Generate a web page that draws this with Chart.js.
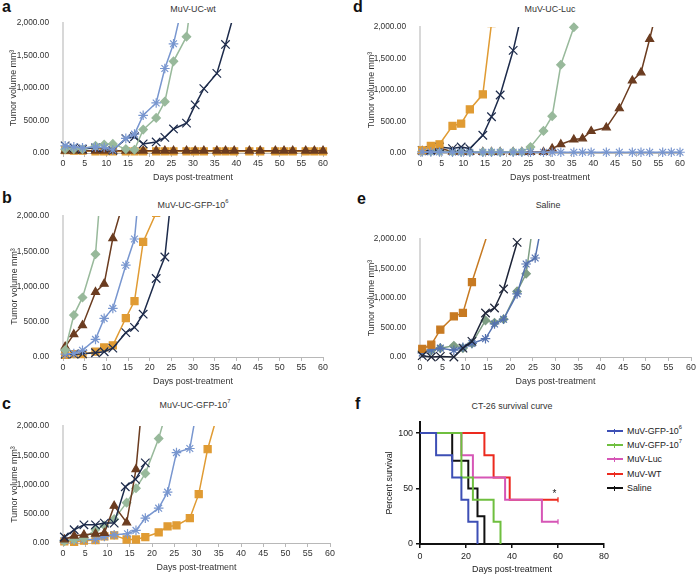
<!DOCTYPE html>
<html>
<head>
<meta charset="utf-8">
<script src="https://cdn.jsdelivr.net/npm/chart.js@4.4.1/dist/chart.umd.min.js"></script>
<style>
  body { margin: 0; width: 700px; height: 577px; position: relative; overflow: hidden; background: #fff;
         font-family: "Liberation Sans", Arial, sans-serif; }
  canvas { position: absolute; }
  .lbl { position: absolute; font-weight: bold; font-size: 16px; line-height: 16px; color: #111; }
  .ttl { position: absolute; font-size: 8.9px; color: #333; white-space: nowrap; transform: translate(-50%, -50%); }
  .ttl sup, .leg sup { font-size: 5.8px; vertical-align: top; position: relative; top: -2px; }
  .leg { position: absolute; font-size: 8.9px; color: #222; white-space: nowrap; transform: translateY(-50%); }
  .leg i { position: absolute; left: -20px; top: 50%; width: 16px; height: 2px; margin-top: -1px; }
  .leg i b { position: absolute; left: 7px; top: -1.5px; width: 1.2px; height: 5px; background: inherit; }
</style>
</head>
<body>
<div class="lbl" style="left:2px;top:-1px">a</div>
<div class="lbl" style="left:353px;top:-1px">d</div>
<div class="lbl" style="left:2px;top:190px">b</div>
<div class="lbl" style="left:357px;top:191px">e</div>
<div class="lbl" style="left:2px;top:396px">c</div>
<div class="lbl" style="left:355px;top:396px">f</div>

<div class="ttl" style="left:193px;top:9px">MuV-UC-wt</div>
<div class="ttl" style="left:550px;top:9px">MuV-UC-Luc</div>
<div class="ttl" style="left:193px;top:205px">MuV-UC-GFP-10<sup>6</sup></div>
<div class="ttl" style="left:548px;top:205px">Saline</div>
<div class="ttl" style="left:195px;top:405px">MuV-UC-GFP-10<sup>7</sup></div>
<div class="ttl" style="left:512px;top:406px">CT-26 survival curve</div>

<div class="leg" style="left:627px;top:431px"><i style="background:#3d4fb5"><b></b></i>MuV-GFP-10<sup>6</sup></div>
<div class="leg" style="left:627px;top:445px"><i style="background:#6fbf3f"><b></b></i>MuV-GFP-10<sup>7</sup></div>
<div class="leg" style="left:627px;top:459px"><i style="background:#d656b6"><b></b></i>MuV-Luc</div>
<div class="leg" style="left:627px;top:474px"><i style="background:#ec2a1e"><b></b></i>MuV-WT</div>
<div class="leg" style="left:627px;top:488px"><i style="background:#111"><b></b></i>Saline</div>

<script>
// axis ticks
const dayTicks = [0, 5, 10, 15, 20, 25, 30, 35, 40, 45, 50, 55, 60];
const volumeTicks = [0, 500, 1000, 1500, 2000];
const survDayTicks = [0, 20, 40, 60, 80];
const survTicks = [0, 50, 100];

// a: MuV-UC-wt  [day, mm3]
const wtBlue = [[0.5,110],[2.5,95],[4.5,80],[7.5,90],[9.5,85],[11.5,46],[14.5,225],[16.5,290],[18.5,580],[21.5,770],[23.5,1300],[25.5,1680],[28.5,2550]];
const wtGreen = [[0.5,60],[2.5,60],[4.5,60],[7.5,110],[9.5,130],[11.5,140],[14.5,60],[16.5,50],[18.5,360],[21.5,540],[23.5,790],[25.5,1410],[28.5,1790],[30.5,2840]];
const wtNavy = [[0.5,110],[2.5,80],[4.5,60],[7.5,80],[9.5,80],[11.5,40],[14.5,220],[16.5,250],[18.5,140],[21.5,170],[23.5,240],[25.5,370],[28.5,460],[30.5,740],[32.5,990],[35.5,1225],[37.5,1670],[39.5,2150]];
const wtOrange = [[0.5,45],[2.5,35],[4.5,35],[7.5,25],[9.5,25],[11.5,25],[14.5,25],[16.5,25],[18.5,25],[21.5,25],[23.5,25],[25.5,25],[28.5,25],[30.5,25],[32.5,25],[35.5,25],[37.5,25],[39.5,25],[43,25],[45.5,25],[49,25],[51,25],[53,25],[56,25],[58,25],[60,25]];
const wtBrown = [[0.5,35],[2.5,35],[4.5,35],[7.5,35],[9.5,35],[11.5,35],[14.5,35],[16.5,35],[18.5,35],[21.5,35],[23.5,35],[25.5,35],[28.5,35],[30.5,35],[32.5,35],[35.5,35],[37.5,35],[39.5,35],[43,35],[45.5,35],[49,35],[51,35],[53,35],[56,35],[58,35],[60,35]];

// d: MuV-UC-Luc
const lucOrange = [[0.5,43],[2.5,112],[4.5,138],[7.5,431],[9.5,468],[11.5,692],[14.5,931],[16.5,2060]];
const lucNavy = [[0.5,40],[2.5,40],[4.5,96],[7.5,70],[9.5,96],[11.5,70],[14.5,282],[16.5,575],[18.5,920],[21.5,1628],[23.5,2220]];
const lucGreen = [[0.5,25],[2.5,25],[4.5,25],[7.5,20],[9.5,20],[11.5,20],[14.5,15],[16.5,15],[18.5,15],[21.5,20],[23.5,20],[25.5,96],[28.5,351],[30.5,585],[32.5,1400],[35.5,1995]];
const lucBrown = [[0.5,30],[2.5,30],[4.5,80],[7.5,20],[9.5,20],[11.5,15],[14.5,15],[16.5,15],[18.5,15],[21.5,15],[23.5,15],[25.5,15],[28.5,15],[30.5,70],[32.5,138],[35.5,213],[37.5,229],[39.5,346],[43,404],[46,707],[49,1149],[51,1277],[53,1809],[56,2650]];
const lucBlue = [[0.5,15],[2.5,15],[4.5,15],[7.5,12],[9.5,12],[11.5,12],[14.5,12],[16.5,12],[18.5,12],[21.5,12],[23.5,12],[25.5,12],[28.5,12],[30.5,12],[32.5,12],[35.5,12],[37.5,12],[39.5,12],[43,12],[46,12],[49,12],[51,12],[53,12],[56,12],[58,12],[60,12]];

// b: MuV-UC-GFP-10^6
const g6Green = [[0.5,100],[2.5,594],[4.5,845],[7.5,1457],[9.5,3000]];
const g6Brown = [[0.5,146],[2.5,321],[4.5,448],[7.5,920],[9.5,1037],[11.5,1684],[14.5,2320]];
const g6Blue = [[0.5,42],[2.5,50],[4.5,95],[7.5,250],[9.5,548],[11.5,689],[14.5,1302],[16.5,1674],[18.5,2980]];
const g6Orange = [[0.5,30],[2.5,40],[4.5,40],[7.5,75],[9.5,135],[11.5,165],[14.5,553],[16.5,794],[18.5,1632],[21.5,2045]];
const g6Navy = [[0.5,40],[2.5,40],[4.5,45],[7.5,60],[9.5,75],[11.5,125],[14.5,345],[16.5,420],[18.5,607],[21.5,1113],[23.5,1419],[25.5,2580]];

// e: Saline
const salOrange = [[0.5,136],[2.5,208],[4.5,463],[7.5,688],[9.5,746],[11.5,1271],[16.5,2450]];
const salNavy = [[0.5,22],[2.5,0],[4.5,10],[7.5,0],[9.5,150],[11.5,264],[14.5,746],[16.5,830],[18.5,1152],[21.5,1942]];
const salGreen = [[0.5,100],[2.5,110],[4.5,150],[7.5,190],[9.5,150],[11.5,230],[14.5,620],[16.5,580],[18.5,640],[21.5,1112],[23.5,1410],[25.5,2530]];
const salBlue = [[0.5,68],[2.5,120],[4.5,150],[7.5,115],[9.5,165],[11.5,230],[14.5,310],[16.5,560],[18.5,640],[21.5,1070],[23.5,1576],[25.5,1678],[28.5,2880]];

// c: MuV-UC-GFP-10^7
const g7Navy = [[0.3,102],[2.5,226],[4.7,311],[7.3,311],[9.3,340],[11.5,340],[14,962],[16.3,1088],[18.5,1370]];
const g7Brown = [[0.3,60],[2.5,124],[4.7,141],[7.3,158],[9.3,170],[11.5,634],[14.3,350],[16.4,1258],[18.5,2990]];
const g7Green = [[0.3,30],[2.5,60],[4.7,80],[7.3,230],[9.3,300],[11.5,408],[14.3,690],[16.4,935],[18.5,1190],[21.5,1785],[23.5,2320]];
const g7Blue = [[0.3,45],[2.5,50],[4.7,60],[7.3,60],[9.3,110],[11.5,140],[14.5,158],[16.4,215],[18.5,425],[21.5,595],[23.5,870],[25.5,1545],[28.5,1615],[30.5,2470]];
const g7Orange = [[0.3,27],[2.5,20],[4.7,40],[7.3,50],[9.3,113],[11.5,130],[14.3,60],[16.4,60],[18.5,102],[21.5,180],[23.5,283],[25.5,300],[28.5,425],[30.5,835],[32.5,1603],[34.5,2140]];

// f: CT-26 survival  [day, percent]
const survGfp6 = [[0,100],[7,80],[14,60],[18,40],[21,20],[25,0]];
const survGfp7 = [[0,100],[18,60],[23,40],[32,20],[35,0]];
const survLuc = [[0,100],[18,80],[23,60],[37,40],[53,20],[60,20]];
const survWt = [[0,100],[28,80],[32,60],[39,40],[60,40]];
const survSaline = [[0,100],[14,75],[21,50],[25,25],[28,0]];
const sigMark = [58.5, 45];

Chart.defaults.font.family = '"Liberation Sans", Arial, sans-serif';
Chart.defaults.font.size = 8.9;
Chart.defaults.color = '#333';

const COL = { blue: '#7896cf', green: '#98b99b', navy: '#1d2b4b', orange: '#e09b33', brown: '#6b3c20' };
const MARK = {
    star:     { pointStyle: 'star',     pointRadius: 4.8 },
    cross:    { pointStyle: 'crossRot', pointRadius: 6 },
    diamond:  { pointStyle: 'rectRot',  pointRadius: 4.2 },
    square:   { pointStyle: 'rect',     pointRadius: 5 },
    triangle: { pointStyle: 'triangle', pointRadius: 4.6 }
};

function series(points, mark, color, extra) {
    return Object.assign({
        data: points.map(p => ({ x: p[0], y: p[1] })),
        showLine: true,
        borderColor: color,
        backgroundColor: color,
        pointBackgroundColor: color,
        pointBorderColor: color,
        borderWidth: 1.5,
        pointBorderWidth: 1.2,
        clip: { left: 8, right: 8, top: 0, bottom: 8 }
    }, MARK[mark], extra || {});
}

function makeCanvas(box) {
    const cv = document.createElement('canvas');
    cv.width = 350;
    cv.height = box.bottom - box.y + 34;
    cv.style.left = box.x + 'px';
    cv.style.top = box.y + 'px';
    document.body.appendChild(cv);
    return cv;
}

function tumorChart(box, datasets) {
    const cv = makeCanvas(box);
    const padL = box.titleX - box.x - 5;
    new Chart(cv, {
        type: 'scatter',
        data: { datasets },
        options: {
            responsive: false,
            animation: false,
            events: [],
            layout: { padding: { left: padL, right: 350 - (box.right - box.x), top: box.top - box.y, bottom: 0 } },
            plugins: { legend: { display: false }, tooltip: { enabled: false } },
            scales: {
                x: {
                    type: 'linear', min: 0, max: 60,
                    afterBuildTicks: s => { s.ticks = dayTicks.map(v => ({ value: v })); },
                    afterFit: s => { s.height = 34; },
                    grid: { display: true, drawOnChartArea: false, drawTicks: true, tickLength: 4, color: '#b8b8b8' },
                    border: { color: '#b8b8b8', width: 1 },
                    ticks: { padding: 1.5, maxRotation: 0, autoSkip: false },
                    title: { display: true, text: 'Days post-treatment', padding: { top: 0, bottom: 4 } }
                },
                y: {
                    min: 0, max: 2000,
                    afterBuildTicks: s => { s.ticks = volumeTicks.map(v => ({ value: v })); },
                    afterFit: s => { s.width = box.left - box.x - padL; },
                    grid: { display: false },
                    border: { color: '#d8d8d8', width: 2 },
                    ticks: {
                        padding: 6,
                        font: { size: 8.3 },
                        callback: v => v.toLocaleString('en-US', { minimumFractionDigits: 2, maximumFractionDigits: 2 })
                    },
                    title: { display: true, text: 'Tumor volume mm³', padding: { top: 0, bottom: 0 } }
                }
            }
        }
    });
}

// a
tumorChart({ x: 0, y: 0, left: 63, right: 323, top: 23, bottom: 153, titleX: 13 }, [
    series(wtBlue, 'star', COL.blue),
    series(wtGreen, 'diamond', COL.green),
    series(wtNavy, 'cross', COL.navy),
    series(wtBrown, 'triangle', COL.brown),
    series(wtOrange, 'square', COL.orange)
]);

// d
tumorChart({ x: 350, y: 0, left: 420, right: 680, top: 27, bottom: 153, titleX: 371 }, [
    series(lucBlue, 'star', COL.blue),
    series(lucOrange, 'square', COL.orange),
    series(lucNavy, 'cross', COL.navy),
    series(lucGreen, 'diamond', COL.green, { clip: { left: 8, right: 8, top: 6, bottom: 8 } }),
    series(lucBrown, 'triangle', COL.brown)
]);

// b
tumorChart({ x: 0, y: 190, left: 63, right: 323, top: 216, bottom: 357, titleX: 14 }, [
    series(g6Green, 'diamond', COL.green),
    series(g6Brown, 'triangle', COL.brown),
    series(g6Blue, 'star', COL.blue),
    series(g6Navy, 'cross', COL.navy),
    series(g6Orange, 'square', COL.orange)
]);

// e (slightly deeper tones in the original)
tumorChart({ x: 350, y: 190, left: 420, right: 691, top: 239, bottom: 357, titleX: 371 }, [
    series(salNavy, 'cross', '#1d2438', { clip: { left: 8, right: 8, top: 6, bottom: 8 } }),
    series(salOrange, 'square', '#c77a22'),
    series(salBlue, 'star', '#5472b0'),
    series(salGreen, 'diamond', '#7e9e84')
]);

// c
tumorChart({ x: 0, y: 380, left: 63, right: 330, top: 426, bottom: 543, titleX: 14 }, [
    series(g7Navy, 'cross', COL.navy),
    series(g7Brown, 'triangle', COL.brown),
    series(g7Green, 'diamond', COL.green),
    series(g7Blue, 'star', COL.blue),
    series(g7Orange, 'square', COL.orange)
]);

// f: survival
function survSeries(points, color, censored) {
    return {
        data: points.map(p => ({ x: p[0], y: p[1] })),
        showLine: true,
        stepped: 'before',
        borderColor: color,
        backgroundColor: color,
        borderWidth: 2,
        pointStyle: 'line',
        pointRotation: 90,
        pointRadius: c => (censored && c.dataIndex === points.length - 1) ? 2.5 : 0,
        pointBorderWidth: 1.3,
        pointBorderColor: color,
        clip: false
    };
}

(function () {
    const box = { x: 350, y: 380, left: 420, right: 604, top: 422, bottom: 544, titleX: 389 };
    const cv = makeCanvas(box);
    const padL = box.titleX - box.x - 5;
    new Chart(cv, {
        type: 'scatter',
        data: {
            datasets: [
                survSeries(survGfp6, '#3d4fb5', false),
                survSeries(survGfp7, '#6fbf3f', false),
                survSeries(survLuc, '#d656b6', true),
                survSeries(survWt, '#ec2a1e', true),
                survSeries(survSaline, '#111111', false)
            ]
        },
        options: {
            responsive: false,
            animation: false,
            events: [],
            layout: { padding: { left: padL, right: 350 - (box.right - box.x), top: box.top - box.y, bottom: 0 } },
            plugins: { legend: { display: false }, tooltip: { enabled: false } },
            scales: {
                x: {
                    type: 'linear', min: 0, max: 80,
                    afterBuildTicks: s => { s.ticks = survDayTicks.map(v => ({ value: v })); },
                    afterFit: s => { s.height = 34; },
                    grid: { display: true, drawOnChartArea: false, drawTicks: true, tickLength: 4, color: '#111', lineWidth: 1.5 },
                    border: { color: '#111', width: 2 },
                    ticks: { color: '#222', padding: 3, maxRotation: 0, autoSkip: false },
                    title: { display: true, text: 'Days post-treatment', color: '#222', padding: { top: 0, bottom: 3 } }
                },
                y: {
                    min: 0, max: 110,
                    afterBuildTicks: s => { s.ticks = survTicks.map(v => ({ value: v })); },
                    afterFit: s => { s.width = box.left - box.x - padL; },
                    grid: { display: true, drawOnChartArea: false, drawTicks: true, tickLength: 4, color: '#111', lineWidth: 1.5 },
                    border: { color: '#111', width: 2 },
                    ticks: { color: '#222', padding: 3 },
                    title: { display: true, text: 'Percent survival', color: '#222', padding: { top: 0, bottom: 0 } }
                }
            }
        },
        plugins: [{
            id: 'sigMark',
            afterDatasetsDraw(chart) {
                const { ctx, scales: { x, y } } = chart;
                ctx.save();
                ctx.fillStyle = '#222';
                ctx.font = '10px "Liberation Sans", Arial, sans-serif';
                ctx.textAlign = 'center';
                ctx.textBaseline = 'middle';
                ctx.fillText('*', x.getPixelForValue(sigMark[0]), y.getPixelForValue(sigMark[1]));
                ctx.restore();
            }
        }]
    });
})();
</script>
</body>
</html>
